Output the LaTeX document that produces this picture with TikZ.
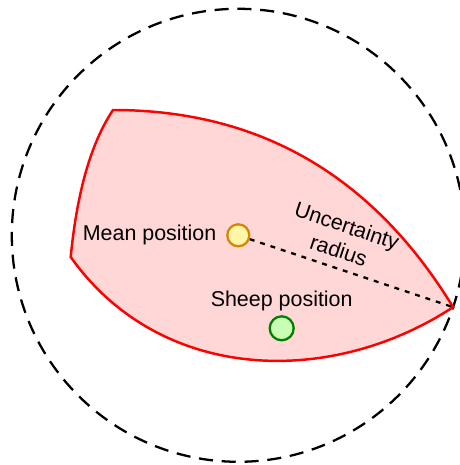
\documentclass[tikz,border=0pt]{standalone}
\usepackage{fontspec}
\setmainfont{Liberation Sans}
\definecolor{ZoneFill}{RGB}{255,215,215}
\definecolor{ZoneRed}{RGB}{255,0,0}
\definecolor{MeanFill}{RGB}{255,246,170}
\definecolor{MeanDraw}{RGB}{214,134,0}
\definecolor{SheepFill}{RGB}{200,255,180}
\definecolor{SheepDraw}{RGB}{0,128,0}
\usetikzlibrary{
    positioning,
    calc,
}

\begin{document}
\begin{tikzpicture}[
    font=\fontsize{12.2}{14.6}\selectfont,
    marker/.style={circle, draw=#1Draw, fill=#1Fill, line width=1.3pt, minimum size=0.44cm, inner sep=0pt},
    label/.style={inner sep=2pt}
]
    \useasboundingbox (-4.766,-4.594) rectangle (4.414,4.706);
    % uncertainty circle round the mean
    \draw[line width=1.3pt, dash pattern=on 8pt off 5pt] (0,0) circle (4.53);
    % likely zone
    \coordinate (tl) at (-2.506, 2.506);
    \coordinate (lw) at (-3.352,-0.434);
    \coordinate (rt) at (-18.5:4.53);
    \filldraw[draw=ZoneRed, fill=ZoneFill, line width=1.4pt, line join=miter]
        (tl) .. controls (0.434,2.506) and (2.694,1.186) .. (rt)
             .. controls (1.834,-3.05) and (-1.566,-2.95) .. (lw)
             .. controls (-3.226,0.866) and (-2.946,1.846) .. (tl) -- cycle;
    \node[marker=Mean]  (mean)  at (0,0) {};
    \node[marker=Sheep, minimum size=0.48cm] (sheep) at (0.868,-1.86) {};
    \node[label, left=0.12cm of mean] (meanlbl) {Mean position};
    \node[label, above=0cm of sheep] (sheeplbl) {Sheep position};
    \draw[line width=1.3pt, dash pattern=on 2.8pt off 3.4pt] (mean) -- (rt)
        node[pos=0.41, above=4pt, sloped, align=center, inner sep=1pt] (radlbl) {Uncertainty\\radius};
\end{tikzpicture}
\end{document}
